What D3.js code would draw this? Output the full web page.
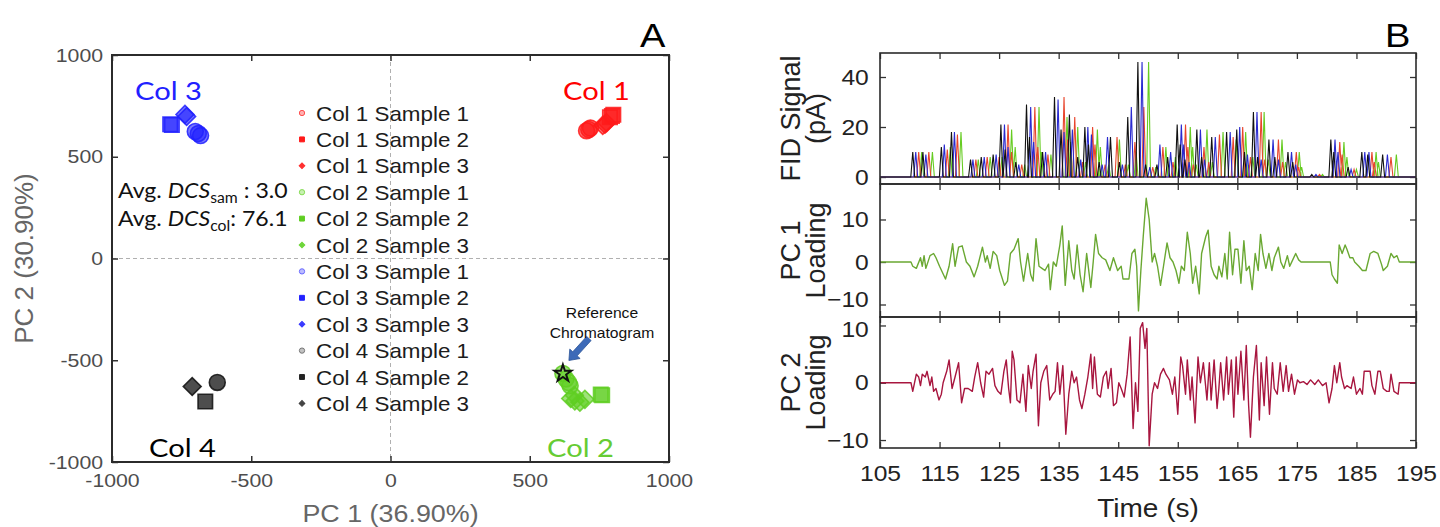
<!DOCTYPE html>
<html>
<head>
<meta charset="utf-8">
<script src="https://cdn.jsdelivr.net/npm/d3@7"></script>
<style>
body { margin: 0; background: #fff; }
svg { display: block; }
</style>
</head>
<body>
<script>
// ---------- panel A data (PCA scores) ----------
var sampleLabels = ["Col 1 Sample 1", "Col 1 Sample 2", "Col 1 Sample 3",
                    "Col 2 Sample 1", "Col 2 Sample 2", "Col 2 Sample 3",
                    "Col 3 Sample 1", "Col 3 Sample 2", "Col 3 Sample 3",
                    "Col 4 Sample 1", "Col 4 Sample 2", "Col 4 Sample 3"];
// replicate scores [PC1, PC2] for each sample
var pcaScores = [
    [[712, 634], [718, 641], [704, 628]],
    [[795, 700], [800, 706], [788, 694]],
    [[770, 660], [776, 667], [762, 654]],
    [[619, -565], [630, -592], [645, -625], [640, -610]],
    [[755, -668], [760, -672]],
    [[647, -688], [662, -700], [680, -706], [698, -692], [660, -672]],
    [[-701, 624], [-690, 614], [-682, 604]],
    [[-791, 660], [-785, 656]],
    [[-738, 708], [-732, 698]],
    [[-622, -609]],
    [[-665, -703]],
    [[-712, -629]]
];
var refChromatogram = [619, -565];
var pcTicks = [-1000, -500, 0, 500, 1000];

// ---------- panel B data ----------
var timeTicks = [105, 115, 125, 135, 145, 155, 165, 175, 185, 195];
var fidTicks = [0, 20, 40];
var loadingTicks = [-10, 0, 10];

// FID peaks [time (s), height (pA)] for the four columns
var fidCol4 = [[110.5,10],[112.2,10],[115.3,12],[117.0,18],[120.2,7],[122.0,8],[124.0,9],[125.3,21],[126.0,11],[127.8,6],
    [129.6,29],[130.1,16],[132.3,10],[134.3,32],[135.4,19],[136.8,25],[138.2,8],[139.4,20],[140.0,13],[141.8,6],
    [143.7,16],[145.2,6],[146.6,24],[148.3,46],[149.6,5],[151.5,5],[153.3,8],[154.9,21],[155.4,13],[156.2,7],
    [158.2,19],[159.0,8],[160.7,16],[163.2,18],[164.9,19],[166.2,10],[167.7,26],[168.4,8],[170.3,15],[171.3,8],
    [173.5,10],[174.3,6],[177.5,1],[180.7,15],[181.2,10],[183.6,4],[185.9,10],[186.9,9],[189.4,9]];
var fidCol3 = [[111.0,10],[112.7,9],[115.8,13],[117.5,18],[120.6,7],[122.5,8],[124.5,9],[125.9,21],[126.5,12],[128.3,5],
    [130.3,28],[130.8,14],[132.8,10],[134.9,31],[135.9,18],[137.3,19],[138.7,7],[139.9,20],[140.5,17],[142.3,5],
    [143.2,16],[145.7,5],[147.2,28],[149.0,46],[150.3,4],[152.0,13],[153.8,10],[155.6,21],[156.0,13],[156.9,6],
    [158.8,19],[159.5,7],[161.3,16],[163.8,18],[165.4,20],[166.7,9],[168.3,26],[169.0,7],[171.0,15],[171.9,7],
    [174.1,10],[174.8,5],[178.2,1],[181.4,15],[181.9,10],[184.1,3],[186.4,10],[187.1,10],[190.2,9]];
var fidCol1 = [[111.5,10],[113.2,10],[116.3,11],[118.0,17],[121.1,7],[123.0,8],[125.0,8],[126.5,21],[127.1,10],[128.8,5],
    [131.0,28],[131.5,12],[133.2,9],[135.9,32],[136.5,15],[137.7,24],[139.0,6],[140.7,20],[141.1,13],[142.8,5],
    [144.8,16],[146.2,5],[147.8,14],[149.3,28],[150.8,4],[152.5,12],[154.2,6],[156.3,21],[156.7,12],[157.6,5],
    [159.4,12],[160.2,6],[162.0,17],[164.3,16],[165.9,20],[167.2,8],[169.0,26],[169.6,7],[171.9,15],[172.6,6],
    [174.9,10],[175.3,4],[178.8,1],[182.2,14],[182.6,9],[184.6,3],[187.6,10],[188.0,6],[190.8,8]];
var fidCol2 = [[112.0,10],[113.8,10],[116.8,12],[118.6,18],[121.5,7],[123.5,8],[125.5,8],[127.1,19],[127.7,12],[129.3,5],
    [131.7,28],[132.1,10],[133.7,9],[136.4,24],[137.0,14],[138.2,20],[139.5,6],[141.5,19],[142.0,12],[143.4,5],
    [145.2,15],[146.7,5],[148.0,10],[150.1,46],[151.3,4],[153.0,12],[154.6,8],[157.1,20],[157.5,12],[158.1,5],
    [159.9,19],[160.8,6],[162.6,18],[164.8,15],[166.4,18],[167.6,8],[169.5,26],[170.2,7],[172.5,15],[173.1,6],
    [175.4,10],[175.8,4],[179.3,1],[182.9,14],[183.4,8],[185.0,3],[188.3,10],[188.7,6],[191.7,9]];

// PC1 loading [time, loading]
var pc1Loading = [[105,0],[110.2,0],[110.5,-1],[111.1,-1.5],[111.8,1],[112.1,-1],[112.4,1.5],[112.7,-1.5],[113.4,1.5],[114.0,2],
    [114.4,1],[115.0,-1],[116.0,-4],[116.6,-1],[117.2,4.3],[117.6,-1],[118.2,3.5],[118.8,3.8],[119.5,0],[120.1,-1],
    [120.8,-3.5],[121.4,-1],[122.2,3.5],[122.7,0],[123.0,1.5],[123.5,-1.5],[124.0,2.5],[124.6,1.5],[125.1,-2],[125.9,-5.5],
    [126.4,-4.5],[126.9,2],[127.5,3],[128.2,5.5],[128.6,0],[129.1,-4.5],[129.8,2],[130.3,-3],[130.7,-4.5],[131.2,5.5],
    [131.7,-1],[132.2,-1.5],[132.7,-2],[133.3,-0.5],[133.6,-6.5],[134.1,0],[134.6,-1],[135.2,4],[135.6,8.5],[136.1,-5.5],
    [136.7,5],[137.2,-2],[137.6,-4],[138.1,4],[138.6,-3],[139.1,-7],[139.7,2],[140.4,-6],[140.8,0],[141.2,6.5],
    [141.7,2],[142.3,1],[142.9,0.5],[143.6,-2],[144.2,1],[144.9,-2],[145.5,-1],[145.8,-4],[146.4,-4],[146.8,-4],
    [147.3,2],[147.8,3],[148.1,-1],[148.4,-11.5],[148.8,-2],[149.2,6],[149.7,15],[150.2,10],[150.7,0],[151.1,2],
    [151.6,-1],[152.1,-5.5],[152.6,-1],[153.2,4.5],[153.7,1],[154.2,0],[154.7,-2],[155.2,-5],[155.6,-1],[156.1,-2],
    [156.6,7],[157.1,2],[157.5,-5],[158.0,-1],[158.6,-7.5],[159.0,2],[159.7,6],[160.1,7.5],[160.6,-1],[161.1,-3],
    [161.6,-4],[161.9,-1],[162.4,-3.5],[162.9,2],[163.3,-4],[163.7,7],[164.2,-3],[164.6,3],[165.1,3],[165.6,-5],
    [166.1,5],[166.5,-2],[167.0,-1],[167.5,-6.5],[168.0,2],[168.5,-2],[168.9,6.5],[169.3,2],[169.8,-1.5],[170.3,2],
    [170.8,-2],[171.2,1],[171.9,3.5],[172.3,0],[172.8,-1.5],[173.4,1.5],[173.8,-1],[174.3,0.5],[174.8,2],[175.3,0.5],
    [175.7,0],[180.6,0],[180.9,-3],[181.3,-4],[181.8,-5],[182.1,4],[182.6,2],[183.1,4],[183.4,3],[183.9,1],
    [184.4,1],[184.7,0],[185.4,-1],[186.0,-2],[186.6,-2],[187.3,2],[187.9,2.5],[188.6,2],[189.2,-0.5],[189.5,-2],
    [190.2,-1],[190.8,2],[191.3,1],[191.8,1.5],[192.2,0],[192.7,0],[195,0]];

// PC2 loading [time, loading]
var pc2Loading = [[105,0],[110.2,0],[110.5,-1.5],[111.1,1.5],[111.5,1],[111.8,-0.5],[112.1,1.5],[112.6,1],[112.9,2],[113.4,-0.5],
    [113.7,1],[114.0,-1.5],[114.4,-1],[114.9,-3],[115.3,-2],[115.6,0],[116.2,2],[116.6,4],[117.1,-1],[117.6,1],
    [118.2,3.5],[118.7,-3.5],[119.2,-1],[119.8,-1],[120.5,-1.5],[120.9,1],[121.4,3.5],[121.9,0],[122.4,-2.5],[122.8,2],
    [123.3,1.5],[123.9,2.5],[124.3,-0.5],[124.8,-1.5],[125.3,-2],[125.8,2],[126.2,4],[126.6,-1],[126.9,-3.5],[127.2,5.5],
    [127.5,4],[128.0,-3],[128.5,-3.5],[129.0,1.5],[129.5,-5],[129.9,3],[130.4,-1],[130.7,2],[131.2,5],[131.6,-7.5],
    [132.0,0],[132.5,2],[133.0,3],[133.5,-3],[134.0,-2],[134.4,-1.5],[134.8,3.5],[135.2,-2],[135.7,3],[136.2,-9],
    [136.7,-2],[137.2,2],[137.6,0],[138.0,1],[138.5,-3],[138.9,-4.5],[139.4,-2],[139.9,1],[140.4,5],[140.7,-1],
    [141.0,4.5],[141.5,-2],[142.0,-2.5],[142.5,1],[143.0,2],[143.3,-1],[143.8,2.5],[144.2,-4],[144.7,-3.5],[145.1,0],
    [145.5,-1],[146.0,-2.5],[146.5,1.5],[147.0,8],[147.5,-8],[147.9,0],[148.3,-5],[148.7,9.5],[149.1,10.5],[149.5,6],
    [149.8,9.5],[150.2,-11],[150.7,-2],[151.1,0],[151.6,-1],[152.1,1.5],[152.6,2.5],[153.0,1.5],[153.6,0.5],[154.1,-2],
    [154.5,1],[155.0,-5.5],[155.5,4.5],[155.8,3],[156.3,-2],[156.6,4],[157.1,-3],[157.4,1],[157.9,-7],[158.4,4.5],
    [158.8,0],[159.3,3.5],[159.9,-3],[160.3,3.5],[160.6,-3],[161.1,4],[161.6,-4.5],[161.9,-1],[162.2,3.5],[162.7,-3],
    [163.2,4.5],[163.5,-2],[164.0,4],[164.4,-6],[164.8,4.5],[165.1,-2],[165.6,5.5],[166.1,-3],[166.5,6.5],[166.9,-4],
    [167.2,-9.5],[167.7,1],[168.2,6.5],[168.7,-6.5],[169.0,3.5],[169.5,-4],[169.9,4.5],[170.4,-5.5],[170.9,3.5],[171.2,-1],
    [171.7,-2],[172.2,3.5],[172.7,-1.5],[173.2,3],[173.6,-1.5],[174.1,1.5],[174.6,-2],[175.1,0.5],[175.5,0],[176.1,0.2],
    [176.7,-0.3],[177.3,0.5],[178.0,-0.3],[178.6,0.5],[179.3,-0.5],[179.9,0],[180.4,-3.5],[180.9,-1],[181.3,3],[181.7,0],
    [182.2,3.5],[182.5,1],[183.0,-1],[183.4,-0.5],[184.1,-1],[184.5,1],[185.0,-2],[185.6,-1],[186.0,-2],[186.3,2],
    [186.8,2],[187.3,2],[187.6,-0.5],[188.1,-2],[188.6,2],[189.0,2],[189.5,-1],[190.1,-1.5],[190.5,-1.5],[190.8,1.5],
    [191.3,-1.5],[192.0,-2],[192.2,0],[192.8,0],[195,0]];

function main(){
    var canvasWidth = 1440;
    var canvasHeight = 527;
    var stretch = 1.12;   // the source figure is a little wide
    var sans = "'Liberation Sans', Arial, sans-serif";

    var svg = d3.select("body").append("svg")
        .attr("width", canvasWidth)
        .attr("height", canvasHeight)
        .attr("font-family", sans);

    function wideText(g, x, y, txt, size, fill, anchor){
        return g.append("text")
            .attr("transform", "translate(" + x + "," + y + ") scale(" + stretch + ",1)")
            .attr("font-size", size + "px")
            .attr("fill", fill)
            .attr("text-anchor", anchor || "start")
            .text(txt);
    }

    // ================= panel A =================
    var colColors = ["#ff1a1a", "#5fce22", "#2121ff", "#2e2e2e"];
    var legendColors = ["#ff5050", "#ff1a1a", "#ff3030", "#86dd55", "#5fce22", "#6fd63a",
                        "#6b6bff", "#2121ff", "#3a3aff", "#777777", "#222222", "#444444"];

    var xA = d3.scaleLinear().domain([-1000, 1000]).range([112, 669]);
    var yA = d3.scaleLinear().domain([-1000, 1000]).range([462, 55]);
    var gA = svg.append("g");

    // zero reference lines
    gA.append("line")
        .attr("x1", xA(0)).attr("x2", xA(0))
        .attr("y1", yA(1000)).attr("y2", yA(-1000))
        .attr("stroke", "#b0b0b0").attr("stroke-dasharray", "4,3");
    gA.append("line")
        .attr("x1", xA(-1000)).attr("x2", xA(1000))
        .attr("y1", yA(0)).attr("y2", yA(0))
        .attr("stroke", "#b0b0b0").attr("stroke-dasharray", "4,3");

    // axes (ticks pointing inward)
    var axB = gA.append("g").attr("transform", "translate(0," + yA(-1000) + ")")
        .call(d3.axisBottom(xA).tickValues(pcTicks).tickSizeInner(-6).tickSizeOuter(0)
            .tickPadding(12).tickFormat(function(d){ return d; }));
    var axL = gA.append("g").attr("transform", "translate(" + xA(-1000) + ",0)")
        .call(d3.axisLeft(yA).tickValues(pcTicks).tickSizeInner(-6).tickSizeOuter(0)
            .tickPadding(8).tickFormat(function(d){ return d; }));
    gA.append("g").attr("transform", "translate(0," + yA(1000) + ")")
        .call(d3.axisTop(xA).tickValues(pcTicks).tickSizeInner(-6).tickSizeOuter(0).tickFormat(""));
    gA.append("g").attr("transform", "translate(" + xA(1000) + ",0)")
        .call(d3.axisRight(yA).tickValues(pcTicks).tickSizeInner(-6).tickSizeOuter(0).tickFormat(""));
    gA.selectAll(".domain").remove();
    gA.selectAll(".tick line").attr("stroke", "#333").attr("stroke-width", 1.5);
    [axB, axL].forEach(function(ax){
        ax.selectAll("text")
            .attr("font-size", "19px")
            .attr("font-family", sans)
            .attr("fill", "#4d4d4d")
            .attr("transform", "scale(" + stretch + ",1)");
    });

    gA.append("rect")
        .attr("x", xA(-1000)).attr("y", yA(1000))
        .attr("width", xA(1000) - xA(-1000)).attr("height", yA(-1000) - yA(1000))
        .attr("fill", "none").attr("stroke", "#2b2b2b").attr("stroke-width", 2);

    // axis titles
    wideText(gA, xA(0), 522, "PC 1 (36.90%)", 24, "#666", "middle");
    gA.append("text")
        .attr("transform", "translate(33," + yA(0) + ") rotate(-90)")
        .attr("text-anchor", "middle")
        .attr("font-size", "26px")
        .attr("fill", "#666")
        .text("PC 2 (30.90%)");

    // markers
    function shapePath(k, size){
        if (k === 0) return d3.symbol().type(d3.symbolCircle).size(size * 0.95)();
        return d3.symbol().type(d3.symbolSquare).size(size)();
    }
    var markerG = gA.append("g");
    pcaScores.forEach(function(reps, i){
        var col = Math.floor(i / 3), k = i % 3;
        markerG.selectAll(null)
            .data(reps)
            .enter().append("path")
            .attr("d", shapePath(k, k === 2 ? 160 : 210))
            .attr("transform", function(d){
                return "translate(" + xA(d[0]) + "," + yA(d[1]) + ")" + (k === 2 ? " rotate(45)" : "");
            })
            .attr("fill", colColors[col])
            .attr("fill-opacity", col === 3 ? 0.85 : 0.6)
            .attr("stroke", col === 3 ? "#111" : colColors[col])
            .attr("stroke-opacity", 0.85)
            .attr("stroke-width", 1.6);
    });

    // reference chromatogram star + arrow
    var rx = xA(refChromatogram[0]), ry = yA(refChromatogram[1]);
    gA.append("path")
        .attr("d", d3.symbol().type(d3.symbolStar).size(90)())
        .attr("transform", "translate(" + rx + "," + ry + ")")
        .attr("fill", "none").attr("stroke", "#111").attr("stroke-width", 2);

    var tx = rx + 6, ty = ry - 13, sx = rx + 26, sy = ry - 35;
    var dx = tx - sx, dy = ty - sy, L = Math.hypot(dx, dy);
    var ux = dx / L, uy = dy / L, nx = -uy, ny = ux;
    var bx = tx - ux * 9, by = ty - uy * 9;
    var arrowPts = [[sx + nx * 3, sy + ny * 3], [bx + nx * 3, by + ny * 3], [bx + nx * 7, by + ny * 7], [tx, ty],
                    [bx - nx * 7, by - ny * 7], [bx - nx * 3, by - ny * 3], [sx - nx * 3, sy - ny * 3]];
    gA.append("path")
        .attr("d", "M" + arrowPts.map(function(p){ return p.join(","); }).join("L") + "Z")
        .attr("fill", "#3d6ab8").attr("stroke", "#2d5598").attr("stroke-width", 0.8);

    wideText(gA, 602, 318, "Reference", 14, "#111", "middle");
    wideText(gA, 602, 338, "Chromatogram", 14, "#111", "middle");

    // legend
    var legG = gA.append("g");
    sampleLabels.forEach(function(lab, i){
        var cy = 113 + i * 26.4, k = i % 3;
        legG.append("path")
            .attr("d", k === 0 ? d3.symbol().type(d3.symbolCircle).size(22)() : d3.symbol().type(d3.symbolSquare).size(k === 2 ? 16 : 24)())
            .attr("transform", "translate(302," + cy + ")" + (k === 2 ? " rotate(45)" : ""))
            .attr("fill", legendColors[i])
            .attr("fill-opacity", k === 0 ? 0.45 : 1)
            .attr("stroke", legendColors[i])
            .attr("stroke-width", 1);
        wideText(legG, 316, cy + 7.5, lab, 20, "#1c1c1c");
    });

    // cluster labels
    var lato = "Lato, 'Open Sans', sans-serif";
    [["Col 3", 135, 100, colColors[2]], ["Col 1", 563, 100, "#ff0000"],
     ["Col 4", 149, 457, "#000"], ["Col 2", 547, 457, "#66cc33"]].forEach(function(c){
        wideText(gA, c[1], c[2], c[0], 26, c[3]).attr("font-family", lato);
    });

    // DCS annotations
    [["sam", " : 3.0", 198], ["col", ": 76.1", 226]].forEach(function(a){
        var t = gA.append("text")
            .attr("transform", "translate(118," + a[2] + ") scale(1.05,1)")
            .attr("font-family", lato).attr("font-size", "22px").attr("fill", "#111");
        t.append("tspan").text("Avg. ");
        t.append("tspan").attr("font-style", "italic").text("DCS");
        t.append("tspan").attr("font-size", "15px").attr("dy", 5).text(a[0]);
        t.append("tspan").attr("dy", -5).text(a[1]);
    });

    wideText(gA, 640, 47, "A", 34, "#000");

    // ================= panel B =================
    var xB = d3.scaleLinear().domain([105, 195]).range([880, 1416]);
    var panels = [
        {y: d3.scaleLinear().domain([-2.8, 49.6]).range([184, 53]), ticks: fidTicks, l1: "FID Signal", l2: "(pA)"},
        {y: d3.scaleLinear().domain([-12.94, 18.35]).range([317, 184]), ticks: loadingTicks, l1: "PC 1", l2: "Loading"},
        {y: d3.scaleLinear().domain([-11.39, 11.48]).range([448, 317]), ticks: loadingTicks, l1: "PC 2", l2: "Loading"}
    ];
    var gB = svg.append("g");

    panels.forEach(function(p, i){
        var top = p.y.range()[1], bot = p.y.range()[0];
        var g = gB.append("g");
        g.append("g").attr("transform", "translate(0," + bot + ")")
            .call(d3.axisBottom(xB).tickValues(timeTicks).tickSizeInner(-6).tickSizeOuter(0).tickFormat(""));
        g.append("g").attr("transform", "translate(0," + top + ")")
            .call(d3.axisTop(xB).tickValues(timeTicks).tickSizeInner(-6).tickSizeOuter(0).tickFormat(""));
        var yl = g.append("g").attr("transform", "translate(" + xB(105) + ",0)")
            .call(d3.axisLeft(p.y).tickValues(p.ticks).tickSizeInner(-6).tickSizeOuter(0).tickPadding(10));
        g.append("g").attr("transform", "translate(" + xB(195) + ",0)")
            .call(d3.axisRight(p.y).tickValues(p.ticks).tickSizeInner(-6).tickSizeOuter(0).tickFormat(""));
        yl.selectAll("text")
            .attr("font-size", "22px").attr("font-family", sans).attr("fill", "#222")
            .attr("transform", "scale(" + stretch + ",1)");
        // the -10 / 10 labels at the shared edge sit a little apart
        yl.selectAll(".tick").filter(function(d){ return (i === 1 && d === -10) || (i === 2 && d === 10); })
            .select("text").attr("dy", i === 1 ? "0.1em" : "0.5em");
        g.selectAll(".domain").remove();
        g.selectAll(".tick line").attr("stroke", "#333").attr("stroke-width", 1.3);

        // two-line y title
        var lab = g.append("text")
            .attr("transform", "translate(0," + ((top + bot) / 2) + ") rotate(-90)")
            .attr("text-anchor", "middle").attr("font-size", "27px").attr("fill", "#222");
        lab.append("tspan").attr("x", 0).attr("y", 800).text(p.l1);
        lab.append("tspan").attr("x", 0).attr("y", 825).text(p.l2);
    });

    svg.append("clipPath").attr("id", "clipB")
        .append("rect").attr("x", 880).attr("y", 53).attr("width", 536).attr("height", 395);

    // FID traces
    function peakTrace(peaks){
        var pts = [[105, 0]];
        peaks.forEach(function(pk){
            pts.push([pk[0] - 0.33, 0], [pk[0], pk[1]], [pk[0] + 0.33, 0]);
        });
        pts.push([195, 0]);
        return pts;
    }
    var fidLine = d3.line().x(function(d){ return xB(d[0]); }).y(function(d){ return panels[0].y(d[1]); });
    var fidSeries = [[fidCol2, "#66cc22"], [fidCol1, "#e8452c"], [fidCol3, "#2a2ad0"], [fidCol4, "#111111"]];
    fidSeries.forEach(function(s){
        gB.append("path")
            .attr("d", fidLine(peakTrace(s[0])))
            .attr("fill", "none").attr("stroke", s[1]).attr("stroke-width", 1.1)
            .attr("clip-path", "url(#clipB)");
    });

    // loadings
    [[pc1Loading, panels[1].y, "#6aa832"], [pc2Loading, panels[2].y, "#a8163f"]].forEach(function(s){
        var line = d3.line().x(function(d){ return xB(d[0]); }).y(function(d){ return s[1](d[1]); });
        gB.append("path")
            .attr("d", line(s[0]))
            .attr("fill", "none").attr("stroke", s[2]).attr("stroke-width", 1.4)
            .attr("stroke-linejoin", "round");
    });

    // frames
    panels.forEach(function(p){
        var top = p.y.range()[1], bot = p.y.range()[0];
        gB.append("rect").attr("x", 880).attr("y", top).attr("width", 536).attr("height", bot - top)
            .attr("fill", "none").attr("stroke", "#2b2b2b").attr("stroke-width", 1.6);
    });

    // time axis labels
    var xt = gB.append("g").attr("transform", "translate(0,448)")
        .call(d3.axisBottom(xB).tickValues(timeTicks).tickSize(0).tickPadding(17));
    xt.select(".domain").remove();
    xt.selectAll("text")
        .attr("font-size", "22px").attr("font-family", sans).attr("fill", "#222")
        .attr("transform", "scale(" + stretch + ",1)");

    wideText(gB, xB(150), 517, "Time (s)", 25, "#222", "middle");
    wideText(gB, 1385, 47, "B", 34, "#000");
}
main();
</script>
</body>
</html>
